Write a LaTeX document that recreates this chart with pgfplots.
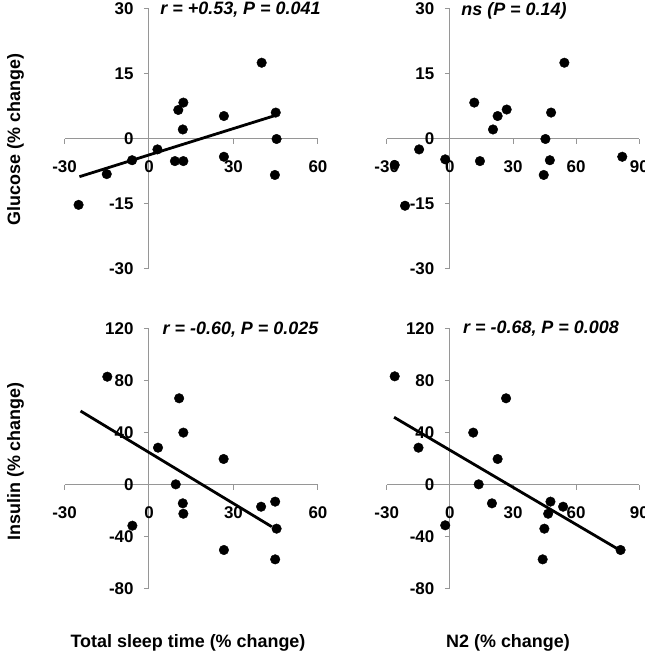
\documentclass[border=0pt]{standalone}
\usepackage{fontspec}
\setmainfont{Liberation Sans}
\usepackage{pgfplots}
\pgfplotsset{compat=1.18}
\definecolor{axgray}{RGB}{150,150,150}

\pgfplotsset{
  myax/.style={
    scale only axis,
    axis lines=middle,
    axis line style={-, color=axgray, line width=1bp},
    every tick/.style={color=axgray, line width=1bp},
    tick align=outside,
    major tick length=5bp,
    hide obscured x ticks=false,
    hide obscured y ticks=false,
    ticklabel style={font=\fontsize{17}{20}\selectfont\bfseries, text=black},
    xticklabel style={anchor=north, yshift=-13bp},
    yticklabel style={anchor=east, xshift=-7bp},
    clip=false,
  },
  pts/.style={only marks, mark=*, mark size=4.8bp, mark options={fill=black, draw=black}},
  fit/.style={no marks, black, line width=2.8bp},
}

\begin{document}
\begin{tikzpicture}
\path[use as bounding box] (0bp,0bp) rectangle (645bp,653bp);

% Top-left: Glucose vs Total sleep time
\begin{axis}[myax, at={(64.5bp,384bp)}, anchor=south west, width=253.5bp, height=260bp,
  xmin=-30, xmax=60, ymin=-30, ymax=30,
  xtick={-30,0,30,60}, xticklabels={{-30},{0},{30},{60}},
  ytick={-30,-15,0,15,30}, yticklabels={{-30},{-15},{0},{15},{30}}]
\addplot[pts] table {
x y
-25 -15.2
-15 -8.1
-6 -4.9
3 -2.4
9.2 -5.1
12.2 -5.1
10.4 6.7
12.2 8.4
12 2.2
26.6 5.3
26.6 -4.1
40 17.6
45 6.1
45.3 0
44.7 -8.3
};
\addplot[fit] coordinates {(-24.7,-8.7) (44.7,5.4)};
\end{axis}

% Top-right: Glucose vs N2
\begin{axis}[myax, at={(386.7bp,384bp)}, anchor=south west, width=252.6bp, height=260bp,
  xmin=-30, xmax=90, ymin=-30, ymax=30,
  xtick={-30,0,30,60,90}, xticklabels={{-30},{0},{30},{60},{90}},
  ytick={-30,-15,0,15,30}, yticklabels={{-30},{-15},{0},{15},{30}}]
\addplot[pts] table {
x y
-26.2 -6.0
-21.3 -15.4
-14.6 -2.4
-2.2 -4.7
11.6 8.4
14.3 -5.1
20.5 2.2
22.7 5.3
27.0 6.8
45.4 0
44.6 -8.3
47.5 -4.9
48.1 6.1
54.4 17.6
81.9 -4.1
};
\end{axis}

% Bottom-left: Insulin vs Total sleep time
\begin{axis}[myax, at={(64.5bp,64bp)}, anchor=south west, width=253.5bp, height=260bp,
  xmin=-30, xmax=60, ymin=-80, ymax=120,
  xtick={-30,0,30,60}, xticklabels={{-30},{0},{30},{60}},
  ytick={-80,-40,0,40,80,120}, yticklabels={{-80},{-40},{0},{40},{80},{120}}]
\addplot[pts] table {
x y
-14.8 83.3
-5.9 -31.3
3.2 28.7
9.5 0.5
10.7 66.7
12.2 40.3
12.0 -14.1
12.2 -22.1
26.5 20
26.6 -50
39.8 -16.7
44.8 -12.8
45.3 -33.6
44.8 -57.2
};
\addplot[fit] coordinates {(-24.3,56.9) (43.6,-32.1)};
\end{axis}

% Bottom-right: Insulin vs N2
\begin{axis}[myax, at={(386.7bp,64bp)}, anchor=south west, width=252.6bp, height=260bp,
  xmin=-30, xmax=90, ymin=-80, ymax=120,
  xtick={-30,0,30,60,90}, xticklabels={{-30},{0},{30},{60},{90}},
  ytick={-80,-40,0,40,80,120}, yticklabels={{-80},{-40},{0},{40},{80},{120}}]
\addplot[pts] table {
x y
-26.2 83.6
-14.9 28.7
-2.2 -31
11.1 40.3
13.7 0.5
20 -14.1
22.7 20
26.7 66.7
44.9 -33.6
44.1 -57.2
46.7 -22.1
47.8 -12.8
53.8 -16.7
81.1 -50
};
\addplot[fit] coordinates {(-26.5,52.1) (80.6,-50)};
\end{axis}

% Annotations
\node[anchor=base, inner sep=0] at (240.5bp,638bp) {\fontsize{18}{21}\selectfont\bfseries\itshape r = +0.53, P = 0.041};
\node[anchor=base, inner sep=0] at (514bp,637bp) {\fontsize{18}{21}\selectfont\bfseries\itshape ns (P = 0.14)};
\node[anchor=base, inner sep=0] at (240.5bp,318.7bp) {\fontsize{18}{21}\selectfont\bfseries\itshape r = -0.60, P = 0.025};
\node[anchor=base, inner sep=0] at (541bp,319.7bp) {\fontsize{18}{21}\selectfont\bfseries\itshape r = -0.68, P = 0.008};

% Axis labels
\node[rotate=90, inner sep=0] at (15.5bp,513.5bp) {\fontsize{18}{21}\selectfont\bfseries Glucose (\% change)};
\node[rotate=90, inner sep=0] at (15.5bp,191.5bp) {\fontsize{18}{21}\selectfont\bfseries Insulin (\% change)};
\node[anchor=base, inner sep=0] at (188bp,6bp) {\fontsize{18}{21}\selectfont\bfseries Total sleep time (\% change)};
\node[anchor=base, inner sep=0] at (508bp,6bp) {\fontsize{18}{21}\selectfont\bfseries N2 (\% change)};
\end{tikzpicture}
\end{document}
